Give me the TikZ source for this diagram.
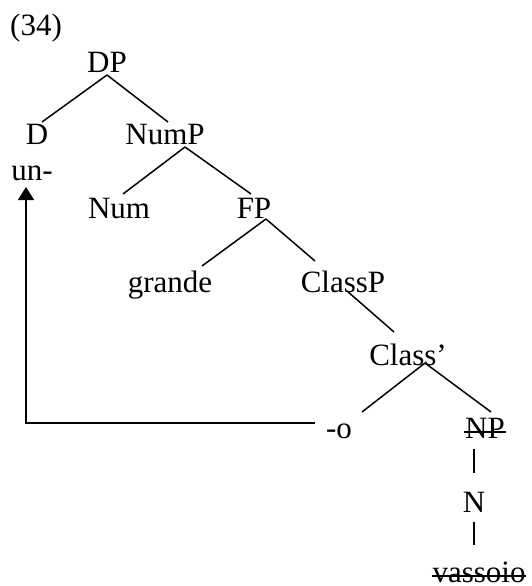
\documentclass[tikz,border=0pt]{standalone}
\usepackage{fontspec}
\setmainfont{Liberation Serif}
\usetikzlibrary{arrows.meta}

\begin{document}
\begin{tikzpicture}[x=1pt, y=-1pt, line width=1.5pt,
    every node/.style={anchor=base, inner sep=0pt, font=\fontsize{31}{37}\selectfont},
    move/.style={-{Triangle[width=16pt,length=13pt]}}]
    \useasboundingbox (0, 0) rectangle (531, 586);
    \node (ex) at (36, 36) {(34)};
    \node (DP) at (107, 72) {DP};
    \node (D) at (37, 144) {D};
    \node (NumP) at (165, 144) {NumP};
    \node (un) at (32, 180) {un-};
    \node (Num) at (119, 218) {Num};
    \node (FP) at (254, 218) {FP};
    \node (grande) at (170, 292) {grande};
    \node (ClassP) at (343, 292) {ClassP};
    \node (Classb) at (408, 365) {Class’};
    \node (o) at (339, 438) {-o};
    \node (NP) at (485, 438) {NP};
    \node (N) at (474, 512) {N};
    \node (vassoio) at (479, 582) {vassoio};
    \draw ([shift={(0, 3)}]DP.base) to ([shift={(5, -22)}]D.base);
    \draw ([shift={(0, 3)}]DP.base) to ([shift={(3, -22)}]NumP.base);
    \draw ([shift={(20, 3)}]NumP.base) to ([shift={(4, -24)}]Num.base);
    \draw ([shift={(20, 3)}]NumP.base) to ([shift={(-3, -24)}]FP.base);
    \draw ([shift={(12, 1)}]FP.base) to ([shift={(32, -26)}]grande.base);
    \draw ([shift={(12, 1)}]FP.base) to ([shift={(-28, -31)}]ClassP.base);
    \draw ([shift={(4, -1)}]ClassP.base) to ([shift={(-14, -33)}]Classb.base);
    \draw ([shift={(17, -2)}]Classb.base) to ([shift={(23, -26)}]o.base);
    \draw ([shift={(17, -2)}]Classb.base) to ([shift={(6, -26)}]NP.base);
    \draw ([shift={(-11, 11)}]NP.base) to ([shift={(0, -39)}]N.base);
    \draw ([shift={(0, 10)}]N.base) to ([shift={(-5, -37)}]vassoio.base);
    % strike-through
    \draw ([shift={(0, -6)}]NP.base west) to ([shift={(0, -6)}]NP.base east);
    \draw ([shift={(0, -6)}]vassoio.base west) to ([shift={(0, -6)}]vassoio.base east);
    % movement
    \draw [move] ([shift={(-24, -15)}]o.base) -| ([shift={(-6, 7)}]un.base);
  \end{tikzpicture}
\end{document}
